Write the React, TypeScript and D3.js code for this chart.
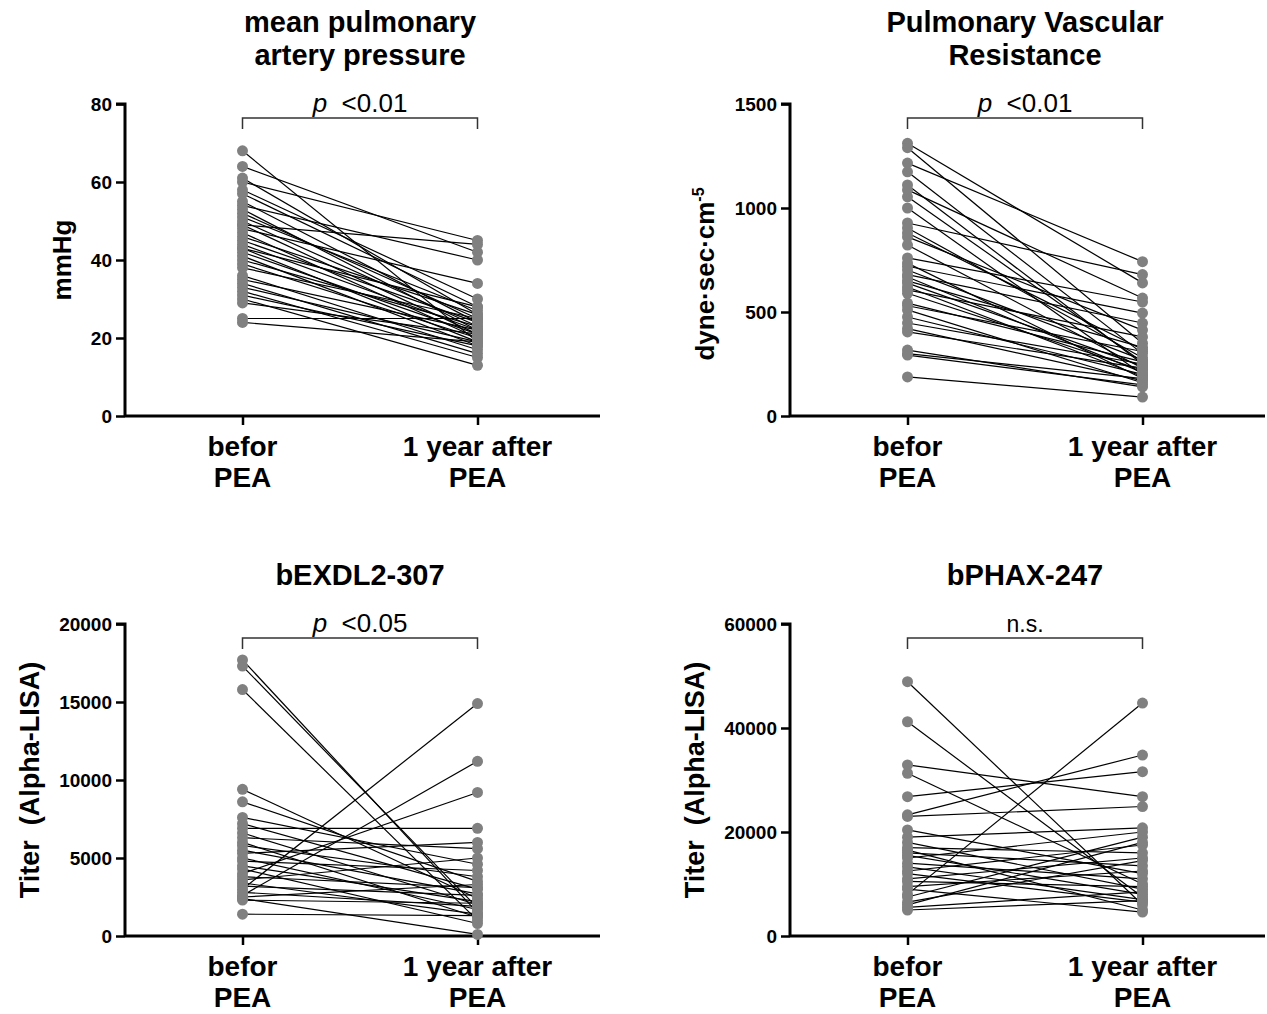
import * as d3 from "d3";
import React, { useEffect, useRef } from "react";

// x categories
const groups = ["befor PEA", "1 year after PEA"];

// mean pulmonary artery pressure (mmHg)
const mpapBefore = [68, 64, 61, 60, 58, 57, 55, 54, 53, 52, 51, 50, 49, 49, 48, 47, 46, 45, 44, 43, 43, 42, 41, 40, 39, 38, 36, 35, 34, 33, 32, 31, 30, 29, 25, 24];
const mpapAfter = [19, 42, 26, 45, 30, 28, 24, 40, 22, 25, 27, 23, 44, 21, 34, 20, 26, 24, 22, 19, 28, 21, 18, 23, 20, 25, 17, 22, 16, 19, 15, 18, 13, 21, 25, 19];

// pulmonary vascular resistance
const pvrBefore = [1311, 1290, 1216, 1174, 1111, 1087, 1054, 1000, 928, 904, 880, 861, 822, 760, 735, 720, 702, 680, 668, 650, 639, 620, 606, 590, 543, 530, 510, 476, 447, 420, 404, 317, 300, 293, 188];
const pvrAfter = [640, 350, 742, 300, 250, 567, 260, 200, 680, 280, 320, 413, 230, 548, 180, 495, 270, 447, 210, 330, 240, 190, 380, 220, 260, 310, 160, 200, 250, 170, 230, 140, 180, 150, 91];

// bEXDL2-307 titer
const bexBefore = [17700, 17300, 15800, 9400, 8600, 7600, 7200, 6900, 6600, 6300, 6000, 5800, 5500, 5300, 5000, 4800, 4500, 4300, 4000, 3800, 3600, 3400, 3200, 3000, 2800, 2600, 2500, 2400, 2300, 1400];
const bexAfter = [1500, 1800, 1000, 2400, 3500, 4600, 3000, 6900, 2000, 5600, 1200, 3800, 2700, 6000, 1700, 4200, 2200, 800, 9200, 3100, 5000, 1400, 2600, 14900, 1900, 11200, 3300, 100, 2100, 1300];

// bPHAX-247 titer
const phaxBefore = [48900, 41200, 32900, 31300, 26800, 23300, 23000, 20400, 19000, 18000, 17000, 16500, 16000, 15500, 15000, 14000, 13300, 12500, 12000, 11000, 10500, 9500, 9000, 8000, 7500, 6500, 6000, 5500, 5000];
const phaxAfter = [6000, 7500, 26800, 10000, 31600, 34800, 24900, 12000, 20800, 9000, 16000, 5000, 13500, 8000, 20000, 11000, 7000, 17500, 6500, 15000, 9500, 12500, 4600, 44800, 19000, 14500, 18000, 8500, 6800];

const FONT = "'Liberation Sans', Arial, sans-serif";

export default function App() {
  const ref = useRef<SVGSVGElement>(null);

  useEffect(() => {
    const svg = d3.select(ref.current);
    svg.selectAll("*").remove();

    const panels = [
      { title: ["mean pulmonary", "artery pressure"], before: mpapBefore, after: mpapAfter, max: 80, step: 20, left: 125, top: 104, bottom: 416, ylab: "mmHg", ylabX: 62, sig: "p" },
      { title: ["Pulmonary Vascular", "Resistance"], before: pvrBefore, after: pvrAfter, max: 1500, step: 500, left: 790, top: 104, bottom: 416, ylab: "dyne", ylabX: 705, sig: "p" },
      { title: ["bEXDL2-307"], before: bexBefore, after: bexAfter, max: 20000, step: 5000, left: 125, top: 624, bottom: 936, ylab: "Titer  (Alpha-LISA)", ylabX: 30, sig: "p05" },
      { title: ["bPHAX-247"], before: phaxBefore, after: phaxAfter, max: 60000, step: 20000, left: 790, top: 624, bottom: 936, ylab: "Titer  (Alpha-LISA)", ylabX: 695, sig: "ns" },
    ];

    panels.forEach((p) => {
      const g = svg.append("g");
      const x = d3.scalePoint().domain(groups).range([p.left, p.left + 470]).padding(0.5);
      const y = d3.scaleLinear().domain([0, p.max]).range([p.bottom, p.top]);
      const x0 = x(groups[0])!;
      const x1 = x(groups[1])!;
      const midX = (x0 + x1) / 2;

      // title
      const titleTop = p.title.length === 2 ? p.top - 72 : p.top - 39;
      p.title.forEach((t, i) => {
        g.append("text")
          .attr("x", midX)
          .attr("y", titleTop + i * 33)
          .attr("text-anchor", "middle")
          .style("font-family", FONT)
          .style("font-weight", "bold")
          .style("font-size", "29px")
          .text(t);
      });

      // y axis
      const yAxis = d3.axisLeft(y).tickValues(d3.range(0, p.max + 1, p.step)).tickSize(9).tickPadding(4).tickFormat(d3.format("d"));
      const ya = g.append("g").attr("transform", `translate(${p.left},0)`).call(yAxis);
      ya.select(".domain").attr("d", `M${-9},${p.top}H0V${p.bottom}`).attr("stroke-width", 3);
      ya.selectAll(".tick line").attr("stroke-width", 2.5);
      ya.selectAll(".tick text").style("font-family", FONT).style("font-weight", "bold").style("font-size", "19px").attr("fill", "#000");

      // x axis
      const xAxis = d3.axisBottom(x).tickSize(9).tickFormat(() => "");
      const xa = g.append("g").attr("transform", `translate(0,${p.bottom})`).call(xAxis);
      xa.select(".domain").attr("d", `M${p.left},0H${p.left + 475}`).attr("stroke-width", 3);
      xa.selectAll(".tick line").attr("stroke-width", 2.5);

      // category labels
      const catLines = [["befor", "PEA"], ["1 year after", "PEA"]];
      groups.forEach((grp, i) => {
        catLines[i].forEach((line, j) => {
          g.append("text")
            .attr("x", x(grp)!)
            .attr("y", p.bottom + 40 + j * 31)
            .attr("text-anchor", "middle")
            .style("font-family", FONT)
            .style("font-weight", "bold")
            .style("font-size", "28px")
            .text(line);
        });
      });

      // y label
      const yl = g.append("text")
        .attr("transform", `translate(${p.ylabX + 9},${(p.top + p.bottom) / 2 + (p.ylab === "dyne" ? 14 : 0)}) rotate(-90)`)
        .attr("text-anchor", "middle")
        .style("font-family", FONT)
        .style("font-weight", "bold")
        .style("font-size", p.ylab === "mmHg" || p.ylab === "dyne" ? "26px" : "27px")
        .style("white-space", "pre");
      if (p.ylab === "dyne") {
        yl.append("tspan").text("dyne·sec·cm");
        yl.append("tspan").attr("dy", -10).style("font-size", "16px").text("-5");
      } else {
        yl.text(p.ylab);
      }

      // significance bracket
      const by = p.top + 14;
      g.append("path")
        .attr("d", `M${x0},${by + 11}V${by}H${x1}V${by + 11}`)
        .attr("fill", "none")
        .attr("stroke", "#333")
        .attr("stroke-width", 1.5);
      const st = g.append("text")
        .attr("x", midX)
        .attr("y", by - 6)
        .attr("text-anchor", "middle")
        .style("font-family", FONT)
        .style("font-size", "26px")
        .style("white-space", "pre");
      if (p.sig === "ns") {
        st.style("font-size", "23px").text("n.s.");
      } else {
        st.append("tspan").style("font-style", "italic").text("p");
        st.append("tspan").text(p.sig === "p05" ? "  <0.05" : "  <0.01");
      }

      // paired lines
      const pairs = p.before.map((b, i) => [b, p.after[i]]);
      g.append("g")
        .selectAll("line")
        .data(pairs)
        .join("line")
        .attr("x1", x0)
        .attr("x2", x1)
        .attr("y1", (d) => y(d[0]))
        .attr("y2", (d) => y(d[1]))
        .attr("stroke", "#000")
        .attr("stroke-width", 1.2);

      // dots
      const dots = g.append("g").attr("fill", "#808080");
      dots.selectAll("circle.b").data(p.before).join("circle").attr("class", "b")
        .attr("cx", x0).attr("cy", (d) => y(d)).attr("r", 5.5);
      dots.selectAll("circle.a").data(p.after).join("circle").attr("class", "a")
        .attr("cx", x1).attr("cy", (d) => y(d)).attr("r", 5.5);
    });
  }, []);

  return (
    <div style={{ position: "absolute", left: 0, top: 0 }}>
      <svg ref={ref} width={1267} height={1014} style={{ display: "block", background: "#fff" }} />
    </div>
  );
}
